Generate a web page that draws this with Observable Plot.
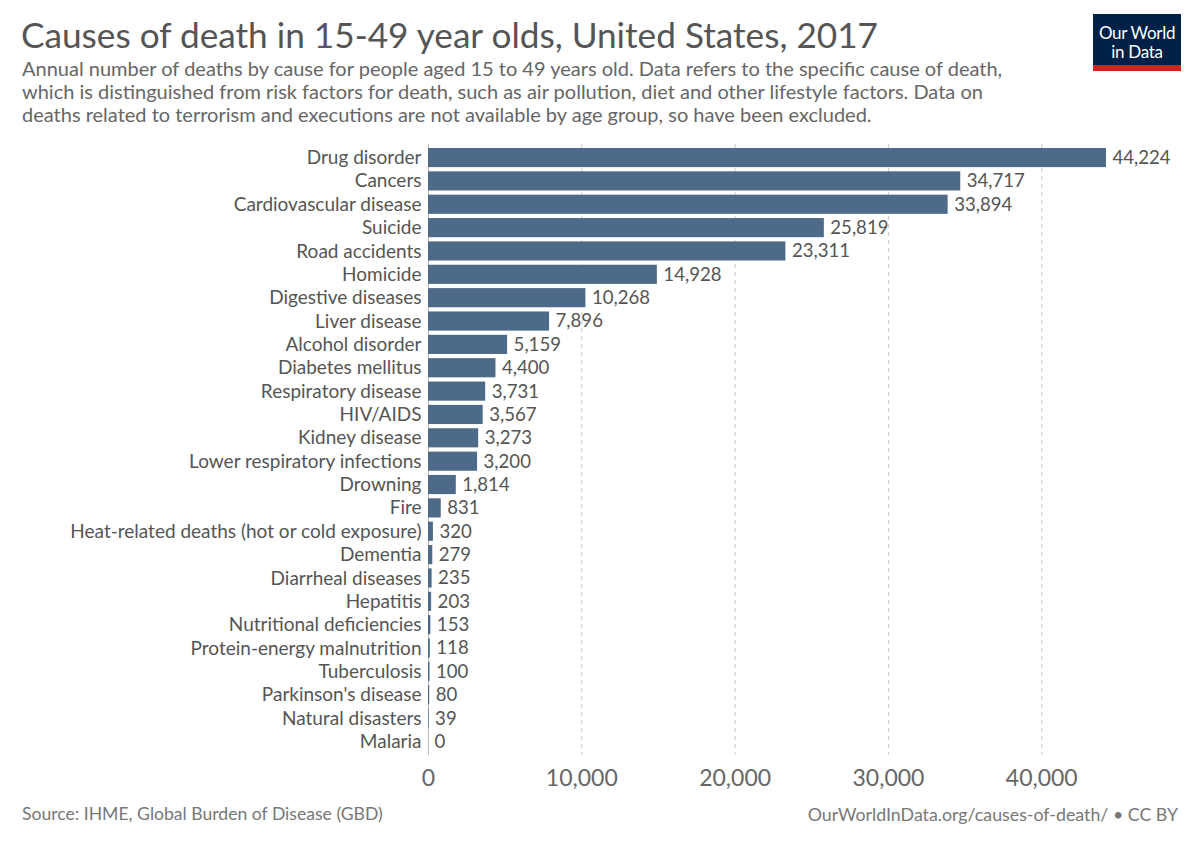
<!DOCTYPE html>
<html>
<head>
<meta charset="utf-8">
<script src="https://cdn.jsdelivr.net/npm/d3@7"></script>
<script src="https://cdn.jsdelivr.net/npm/@observablehq/plot@0.6"></script>
<style>
  html, body { margin: 0; padding: 0; background: #fff; }
  body { width: 1200px; height: 847px; position: relative; font-family: Lato, "Noto Sans", sans-serif; overflow: hidden; }
  #title { position: absolute; left: 21px; top: 13px; font-size: 35.2px; color: #555; white-space: nowrap; }
  #subtitle { position: absolute; left: 22px; top: 57px; font-size: 20px; line-height: 23px; color: #666; white-space: nowrap; }
  #logo { position: absolute; left: 1093px; top: 14px; width: 88px; height: 57px; background: #002147; color: #fff; font-size: 17px; line-height: 19px; text-align: center; box-sizing: border-box; padding-top: 9px; letter-spacing: -0.3px; }
  #logo .bar { position: absolute; left: 0; bottom: 0; width: 100%; height: 6px; background: #ce261e; }
  #chart { position: absolute; left: 0; top: 137px; }
  #source { position: absolute; left: 22px; top: 803px; font-size: 17.6px; color: #777; }
  #url { position: absolute; right: 22px; top: 803px; font-size: 17.8px; color: #777; }
</style>
</head>
<body>
<div id="title">Causes of death in 15-49 year olds, United States, 2017</div>
<div id="subtitle">Annual number of deaths by cause for people aged 15 to 49 years old. Data refers to the specific cause of death,<br>which is distinguished from risk factors for death, such as air pollution, diet and other lifestyle factors. Data on<br>deaths related to terrorism and executions are not available by age group, so have been excluded.</div>
<div id="logo">Our World<br>in Data<div class="bar"></div></div>
<div id="chart"></div>
<div id="source">Source: IHME, Global Burden of Disease (GBD)</div>
<div id="url">OurWorldInData.org/causes-of-death/ • CC BY</div>
<script>
const causes = [
  "Drug disorder", "Cancers", "Cardiovascular disease", "Suicide", "Road accidents",
  "Homicide", "Digestive diseases", "Liver disease", "Alcohol disorder", "Diabetes mellitus",
  "Respiratory disease", "HIV/AIDS", "Kidney disease", "Lower respiratory infections", "Drowning",
  "Fire", "Heat-related deaths (hot or cold exposure)", "Dementia", "Diarrheal diseases", "Hepatitis",
  "Nutritional deficiencies", "Protein-energy malnutrition", "Tuberculosis", "Parkinson's disease",
  "Natural disasters", "Malaria"
];
const deaths = [
  44224, 34717, 33894, 25819, 23311,
  14928, 10268, 7896, 5159, 4400,
  3731, 3567, 3273, 3200, 1814,
  831, 320, 279, 235, 203,
  153, 118, 100, 80,
  39, 0
];
const xTicks = [0, 10000, 20000, 30000, 40000];

const data = causes.map((c, i) => ({cause: c, value: deaths[i]}));
const fmt = d3.format(",");

const chart = Plot.plot({
  width: 1200,
  height: 661,
  marginLeft: 428,
  marginRight: 94,
  marginTop: 7,
  marginBottom: 43,
  style: {fontFamily: "Lato, 'Noto Sans', sans-serif", background: "transparent", overflow: "visible"},
  x: {domain: [0, 44224], ticks: xTicks, nice: false},
  y: {domain: causes, paddingInner: 0.18, paddingOuter: 0.17, round: false},
  marks: [
    Plot.gridX(xTicks.filter(t => t > 0), {stroke: "#ccc", strokeOpacity: 1, strokeDasharray: "4,4", strokeWidth: 1}),
    Plot.ruleX([0], {stroke: "#bbb"}),
    Plot.barX(data, {x: "value", y: "cause", fill: "#4d6a88"}),
    Plot.text(data, {x: "value", y: "cause", text: d => fmt(d.value), dx: 6, textAnchor: "start", fontSize: 18.6, fill: "#555"}),
    Plot.axisX(xTicks, {tickSize: 0, tickPadding: 14, fontSize: 23, tickFormat: d => fmt(d), color: "#666", label: null}),
    Plot.axisY({tickSize: 0, tickPadding: 7, fontSize: 19, color: "#555", label: null})
  ]
});
document.getElementById("chart").appendChild(chart);
</script>
</body>
</html>
